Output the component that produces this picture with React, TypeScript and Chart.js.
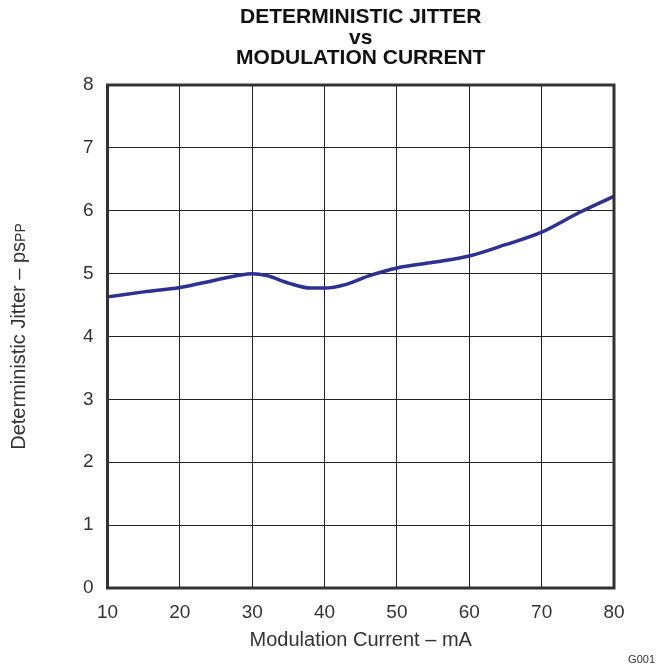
import React, { useEffect, useRef } from "react";
import { Chart, registerables } from "chart.js";

Chart.register(...registerables);

const titleLines = ["DETERMINISTIC JITTER", "vs", "MODULATION CURRENT"];
const xTitle = "Modulation Current – mA";
const yTitleMain = "Deterministic Jitter – ps";
const yTitleSub = "PP";
const figId = "G001";

const currentMA = [10, 15, 20, 25, 28, 30, 32, 35, 38, 40, 43, 46, 50, 55, 60, 65, 70, 75, 80];
const jitterPs = [4.63, 4.71, 4.78, 4.9, 4.97, 5.0, 4.97, 4.85, 4.77, 4.77, 4.83, 4.96, 5.09, 5.18, 5.28, 5.46, 5.66, 5.96, 6.23];

const FONT = "'Liberation Sans', Arial, Helvetica, sans-serif";

const textPlugin = {
  id: "customText",
  afterDatasetsDraw(chart: any) {
    const { ctx, chartArea } = chart;
    ctx.save();
    ctx.strokeStyle = "#333";
    ctx.lineWidth = 3;
    ctx.strokeRect(chartArea.left, chartArea.top, chartArea.right - chartArea.left, chartArea.bottom - chartArea.top);
    ctx.restore();
  },
  afterDraw(chart: any) {
    const { ctx, chartArea } = chart;
    const cx = (chartArea.left + chartArea.right) / 2;
    const cy = (chartArea.top + chartArea.bottom) / 2;
    ctx.save();
    ctx.fillStyle = "#111";
    ctx.textAlign = "center";
    ctx.textBaseline = "middle";
    ctx.font = `bold 21px ${FONT}`;
    const ys = [17, 38, 58];
    titleLines.forEach((l, i) => ctx.fillText(l, cx, ys[i]));

    ctx.fillStyle = "#333";
    ctx.font = `20px ${FONT}`;
    ctx.fillText(xTitle, cx, 640);

    // y title
    ctx.save();
    ctx.translate(18, cy);
    ctx.rotate(-Math.PI / 2);
    ctx.font = `20px ${FONT}`;
    const w1 = ctx.measureText(yTitleMain).width;
    ctx.font = `14px ${FONT}`;
    const w2 = ctx.measureText(yTitleSub).width;
    const start = -(w1 + w2) / 2;
    ctx.textAlign = "left";
    ctx.textBaseline = "alphabetic";
    ctx.font = `20px ${FONT}`;
    ctx.fillText(yTitleMain, start, 7);
    ctx.font = `14px ${FONT}`;
    ctx.fillText(yTitleSub, start + w1, 7);
    ctx.restore();

    ctx.font = `11px ${FONT}`;
    ctx.textAlign = "right";
    ctx.fillText(figId, 655, 660);
    ctx.restore();
  },
};

export default function App() {
  const ref = useRef<HTMLCanvasElement>(null);
  useEffect(() => {
    if (!ref.current) return;
    const chart = new Chart(ref.current, {
      type: "line",
      data: {
        datasets: [
          {
            data: currentMA.map((x, i) => ({ x, y: jitterPs[i] })),
            borderColor: "#2e3192",
            borderWidth: 3.5,
            pointRadius: 0,
            cubicInterpolationMode: "monotone",
            fill: false,
          },
        ],
      },
      options: {
        responsive: false,
        animation: false,
        layout: { padding: { top: 85, left: 0, right: 43, bottom: 0 } },
        plugins: { legend: { display: false }, title: { display: false }, tooltip: { enabled: false } },
        scales: {
          x: {
            type: "linear",
            min: 10,
            max: 80,
            ticks: { stepSize: 10, color: "#333", font: { family: FONT, size: 19 }, padding: 13 },
            grid: { color: "#222", lineWidth: 1, drawTicks: false },
            border: { display: false },
            afterFit: (s: any) => {
              s.height = 83;
            },
          },
          y: {
            min: 0,
            max: 8,
            ticks: { stepSize: 1, color: "#333", font: { family: FONT, size: 19 }, padding: 14 },
            grid: { color: "#222", lineWidth: 1, drawTicks: false },
            border: { display: false },
            afterFit: (s: any) => {
              s.width = 107.5;
            },
          },
        },
      },
      plugins: [textPlugin],
    });
    return () => chart.destroy();
  }, []);
  return (
    <div style={{ position: "absolute", left: 0, top: 0, width: 657, height: 671, background: "#fff" }}>
      <canvas ref={ref} width={657} height={671} style={{ width: 657, height: 671, display: "block" }} />
    </div>
  );
}
